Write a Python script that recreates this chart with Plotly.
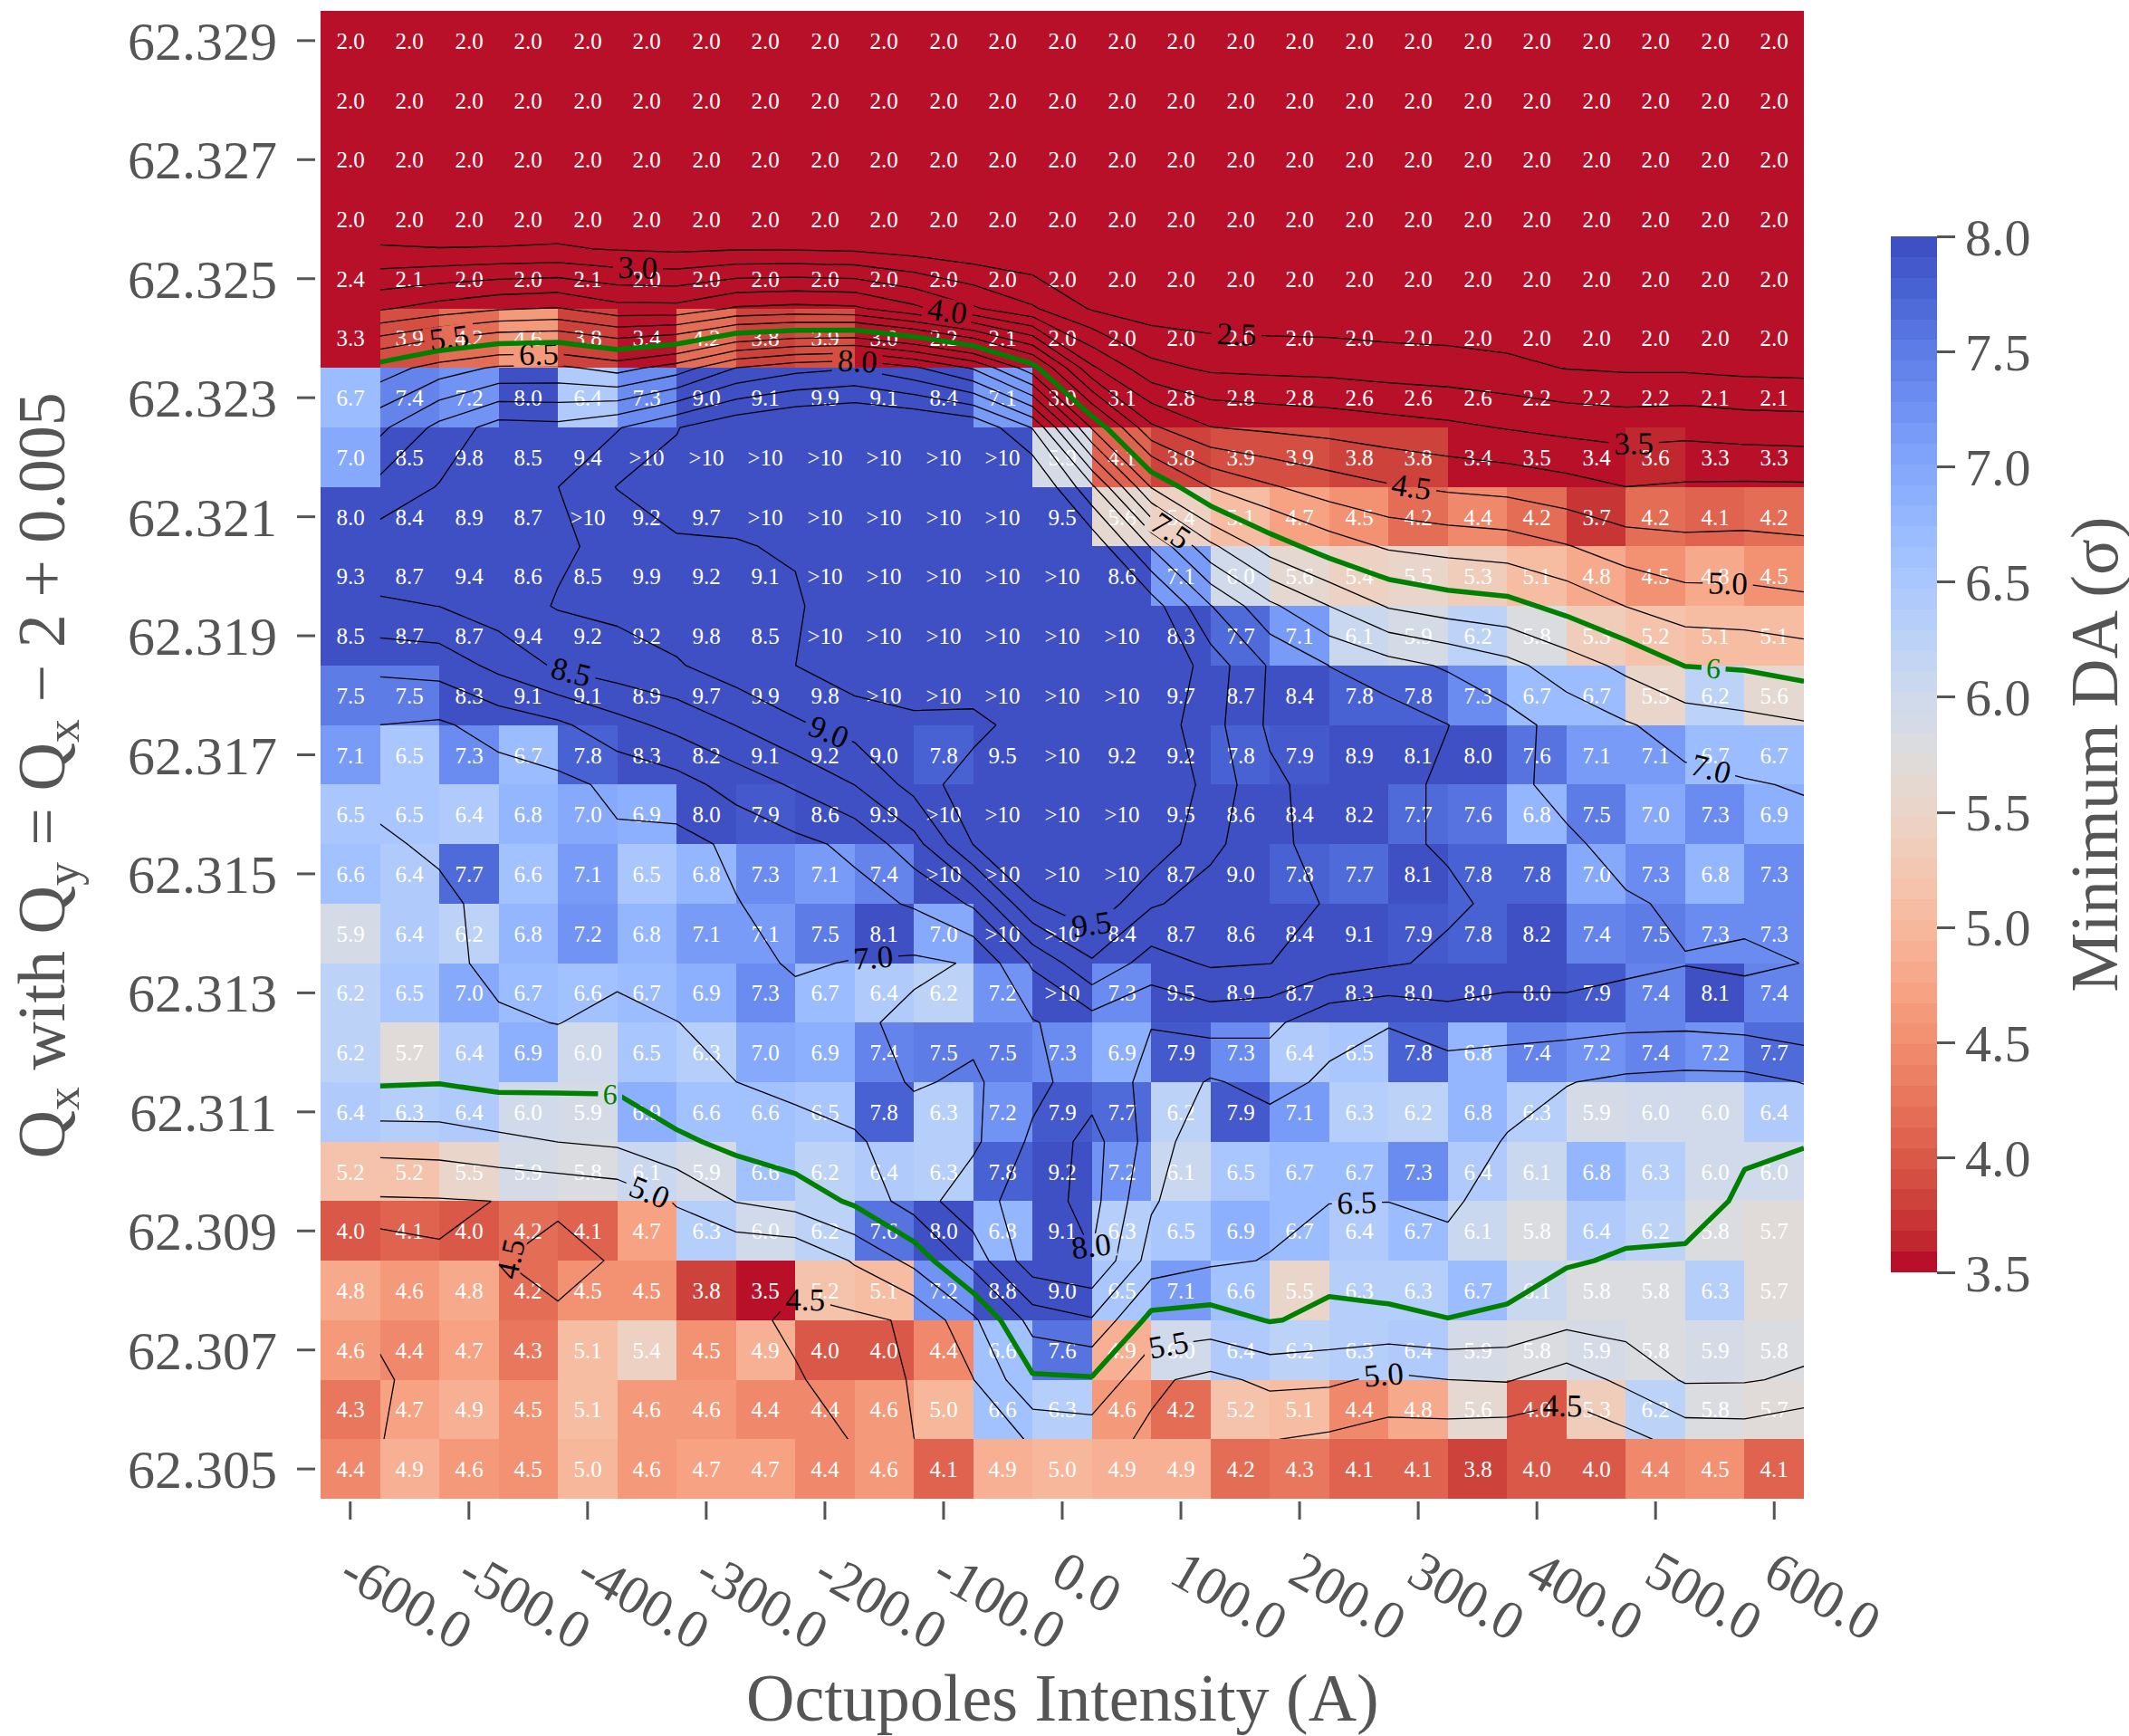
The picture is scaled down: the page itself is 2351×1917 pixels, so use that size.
import numpy as np
import plotly.graph_objects as go

# Octupole current scan (A) and horizontal tune scan (Q_y = Q_x - 2 + 0.005)
octupole_current = [-600, -550, -500, -450, -400, -350, -300, -250, -200, -150, -100, -50,
                    0, 50, 100, 150, 200, 250, 300, 350, 400, 450, 500, 550, 600]
qx_tune = [62.305, 62.306, 62.307, 62.308, 62.309, 62.310, 62.311, 62.312, 62.313,
           62.314, 62.315, 62.316, 62.317, 62.318, 62.319, 62.320, 62.321, 62.322,
           62.323, 62.324, 62.325, 62.326, 62.327, 62.328, 62.329]

# Minimum dynamic aperture (sigma), one row per tune, listed from Qx = 62.329 down to 62.305.
# ">10" marks working points whose aperture exceeds the 10 sigma tracking limit.
G = ">10"
min_da_rows = [
    [2.0, 2.0, 2.0, 2.0, 2.0, 2.0, 2.0, 2.0, 2.0, 2.0, 2.0, 2.0, 2.0, 2.0, 2.0, 2.0, 2.0, 2.0, 2.0, 2.0, 2.0, 2.0, 2.0, 2.0, 2.0],
    [2.0, 2.0, 2.0, 2.0, 2.0, 2.0, 2.0, 2.0, 2.0, 2.0, 2.0, 2.0, 2.0, 2.0, 2.0, 2.0, 2.0, 2.0, 2.0, 2.0, 2.0, 2.0, 2.0, 2.0, 2.0],
    [2.0, 2.0, 2.0, 2.0, 2.0, 2.0, 2.0, 2.0, 2.0, 2.0, 2.0, 2.0, 2.0, 2.0, 2.0, 2.0, 2.0, 2.0, 2.0, 2.0, 2.0, 2.0, 2.0, 2.0, 2.0],
    [2.0, 2.0, 2.0, 2.0, 2.0, 2.0, 2.0, 2.0, 2.0, 2.0, 2.0, 2.0, 2.0, 2.0, 2.0, 2.0, 2.0, 2.0, 2.0, 2.0, 2.0, 2.0, 2.0, 2.0, 2.0],
    [2.4, 2.1, 2.0, 2.0, 2.1, 2.0, 2.0, 2.0, 2.0, 2.0, 2.0, 2.0, 2.0, 2.0, 2.0, 2.0, 2.0, 2.0, 2.0, 2.0, 2.0, 2.0, 2.0, 2.0, 2.0],
    [3.3, 3.9, 4.2, 4.6, 3.8, 3.4, 4.2, 3.8, 3.9, 3.0, 2.2, 2.1, 2.0, 2.0, 2.0, 2.0, 2.0, 2.0, 2.0, 2.0, 2.0, 2.0, 2.0, 2.0, 2.0],
    [6.7, 7.4, 7.2, 8.0, 6.4, 7.3, 9.0, 9.1, 9.9, 9.1, 8.4, 7.1, 3.0, 3.1, 2.8, 2.8, 2.8, 2.6, 2.6, 2.6, 2.2, 2.2, 2.2, 2.1, 2.1],
    [7.0, 8.5, 9.8, 8.5, 9.4, G, G, G, G, G, G, G, 5.9, 4.1, 3.8, 3.9, 3.9, 3.8, 3.8, 3.4, 3.5, 3.4, 3.6, 3.3, 3.3],
    [8.0, 8.4, 8.9, 8.7, G, 9.2, 9.7, G, G, G, G, G, 9.5, 5.6, 5.4, 5.1, 4.7, 4.5, 4.2, 4.4, 4.2, 3.7, 4.2, 4.1, 4.2],
    [9.3, 8.7, 9.4, 8.6, 8.5, 9.9, 9.2, 9.1, G, G, G, G, G, 8.6, 7.1, 6.0, 5.6, 5.4, 5.5, 5.3, 5.1, 4.8, 4.5, 4.8, 4.5],
    [8.5, 8.7, 8.7, 9.4, 9.2, 9.2, 9.8, 8.5, G, G, G, G, G, G, 8.3, 7.7, 7.1, 6.1, 5.9, 6.2, 5.8, 5.3, 5.2, 5.1, 5.1],
    [7.5, 7.5, 8.3, 9.1, 9.1, 8.9, 9.7, 9.9, 9.8, G, G, G, G, G, 9.7, 8.7, 8.4, 7.8, 7.8, 7.3, 6.7, 6.7, 5.5, 6.2, 5.6],
    [7.1, 6.5, 7.3, 6.7, 7.8, 8.3, 8.2, 9.1, 9.2, 9.0, 7.8, 9.5, G, 9.2, 9.2, 7.8, 7.9, 8.9, 8.1, 8.0, 7.6, 7.1, 7.1, 6.7, 6.7],
    [6.5, 6.5, 6.4, 6.8, 7.0, 6.9, 8.0, 7.9, 8.6, 9.9, G, G, G, G, 9.5, 8.6, 8.4, 8.2, 7.7, 7.6, 6.8, 7.5, 7.0, 7.3, 6.9],
    [6.6, 6.4, 7.7, 6.6, 7.1, 6.5, 6.8, 7.3, 7.1, 7.4, G, G, G, G, 8.7, 9.0, 7.8, 7.7, 8.1, 7.8, 7.8, 7.0, 7.3, 6.8, 7.3],
    [5.9, 6.4, 6.2, 6.8, 7.2, 6.8, 7.1, 7.1, 7.5, 8.1, 7.0, G, G, 8.4, 8.7, 8.6, 8.4, 9.1, 7.9, 7.8, 8.2, 7.4, 7.5, 7.3, 7.3],
    [6.2, 6.5, 7.0, 6.7, 6.6, 6.7, 6.9, 7.3, 6.7, 6.4, 6.2, 7.2, G, 7.3, 9.5, 8.9, 8.7, 8.3, 8.0, 8.0, 8.0, 7.9, 7.4, 8.1, 7.4],
    [6.2, 5.7, 6.4, 6.9, 6.0, 6.5, 6.3, 7.0, 6.9, 7.4, 7.5, 7.5, 7.3, 6.9, 7.9, 7.3, 6.4, 6.5, 7.8, 6.8, 7.4, 7.2, 7.4, 7.2, 7.7],
    [6.4, 6.3, 6.4, 6.0, 5.9, 6.9, 6.6, 6.6, 6.5, 7.8, 6.3, 7.2, 7.9, 7.7, 6.2, 7.9, 7.1, 6.3, 6.2, 6.8, 6.3, 5.9, 6.0, 6.0, 6.4],
    [5.2, 5.2, 5.5, 5.9, 5.8, 6.1, 5.9, 6.6, 6.2, 6.4, 6.3, 7.8, 9.2, 7.2, 6.1, 6.5, 6.7, 6.7, 7.3, 6.4, 6.1, 6.8, 6.3, 6.0, 6.0],
    [4.0, 4.1, 4.0, 4.2, 4.1, 4.7, 6.3, 6.0, 6.2, 7.6, 8.0, 6.8, 9.1, 6.3, 6.5, 6.9, 6.7, 6.4, 6.7, 6.1, 5.8, 6.4, 6.2, 5.8, 5.7],
    [4.8, 4.6, 4.8, 4.2, 4.5, 4.5, 3.8, 3.5, 5.2, 5.1, 7.2, 8.8, 9.0, 6.5, 7.1, 6.6, 5.5, 6.3, 6.3, 6.7, 6.1, 5.8, 5.8, 6.3, 5.7],
    [4.6, 4.4, 4.7, 4.3, 5.1, 5.4, 4.5, 4.9, 4.0, 4.0, 4.4, 6.6, 7.6, 4.9, 6.0, 6.4, 6.2, 6.3, 6.4, 5.9, 5.8, 5.9, 5.8, 5.9, 5.8],
    [4.3, 4.7, 4.9, 4.5, 5.1, 4.6, 4.6, 4.4, 4.4, 4.6, 5.0, 6.6, 6.3, 4.6, 4.2, 5.2, 5.1, 4.4, 4.8, 5.6, 4.0, 5.3, 6.2, 5.8, 5.7],
    [4.4, 4.9, 4.6, 4.5, 5.0, 4.6, 4.7, 4.7, 4.4, 4.6, 4.1, 4.9, 5.0, 4.9, 4.9, 4.2, 4.3, 4.1, 4.1, 3.8, 4.0, 4.0, 4.4, 4.5, 4.1],
]
ABOVE_LIMIT = 10.5           # numeric stand-in for ">10"

colorbar_ticks = [3.5, 4.0, 4.5, 5.0, 5.5, 6.0, 6.5, 7.0, 7.5, 8.0]
black_levels_low = (2.5, 5.5)
black_levels_high = (6.5, 9.5)
green_level = 6.0
smooth_sigma = 0.7           # gaussian width (cells) used for the iso-lines

SERIF = "Liberation Serif"
GREY = "#555555"

# rows ordered bottom-up to match ascending tune values
rows_up = list(reversed(min_da_rows))
z = np.array([[ABOVE_LIMIT if v == G else v for v in r] for r in rows_up], dtype=float)
cell_text = [[v if v == G else f"{v:.1f}" for v in r] for r in rows_up]

x = np.array(octupole_current, dtype=float)
y = np.array(qx_tune, dtype=float)
dx = 50.0
dy = 0.001


def gaussian_smooth(a, sigma, truncate=4.0):
    """Separable gaussian filter with mirror padding at the edges."""
    r = int(truncate * sigma + 0.5)
    k = np.exp(-0.5 * (np.arange(-r, r + 1) / sigma) ** 2)
    k /= k.sum()
    p = np.pad(a, r, mode="symmetric")
    p = np.apply_along_axis(lambda v: np.convolve(v, k, mode="valid"), 1, p)
    p = np.apply_along_axis(lambda v: np.convolve(v, k, mode="valid"), 0, p)
    return p


z_smooth = gaussian_smooth(z, smooth_sigma)

# diverging cool-warm map, reversed so large apertures are blue
_coolwarm = [
    (59, 76, 192), (68, 90, 204), (77, 104, 215), (87, 117, 225), (98, 130, 234),
    (108, 142, 241), (119, 154, 247), (130, 165, 251), (141, 176, 254), (152, 185, 255),
    (163, 194, 255), (174, 201, 253), (184, 208, 249), (194, 213, 244), (204, 217, 238),
    (213, 219, 230), (221, 221, 221), (229, 216, 209), (236, 211, 197), (241, 204, 185),
    (245, 196, 173), (247, 187, 160), (247, 177, 148), (247, 166, 135), (244, 154, 123),
    (241, 141, 111), (236, 127, 99), (229, 112, 88), (222, 96, 77), (213, 80, 66),
    (203, 62, 56), (192, 40, 47), (180, 4, 38),
]


def coolwarm_r(t):
    t = 1.0 - min(max(t, 0.0), 1.0)
    pos = t * (len(_coolwarm) - 1)
    i = min(int(np.floor(pos)), len(_coolwarm) - 2)
    f = pos - i
    a, b = _coolwarm[i], _coolwarm[i + 1]
    c = [round(a[k] + (b[k] - a[k]) * f) for k in range(3)]
    return f"rgb({c[0]},{c[1]},{c[2]})"


n_bands = 50
colorscale = []
for k in range(n_bands):
    col = coolwarm_r((k + 0.5) / n_bands)
    colorscale.append([k / n_bands, col])
    colorscale.append([(k + 1) / n_bands, col])

fig = go.Figure()

fig.add_trace(go.Heatmap(
    x=x, y=y, z=z,
    zmin=3.5, zmax=8.0,
    colorscale=colorscale,
    text=cell_text,
    texttemplate="%{text}",
    textfont=dict(family=SERIF, size=25, color="white"),
    hoverinfo="skip",
    colorbar=dict(
        x=1.0586, xanchor="left", xref="paper", xpad=0,
        y=0.5, yanchor="middle", ypad=0,
        len=0.696, lenmode="fraction",
        thickness=51, thicknessmode="pixels",
        outlinewidth=0,
        ticks="outside", ticklen=20, tickwidth=3, tickcolor=GREY,
        tickvals=colorbar_ticks,
        ticktext=[f"{v:.1f}" for v in colorbar_ticks],
        tickfont=dict(family=SERIF, size=58, color=GREY),
    ),
))

# iso-lines live on the cell corners (half a cell right and up)
xc = x + dx / 2
yc = y + dy / 2

for lo, hi in (black_levels_low, black_levels_high):
    fig.add_trace(go.Contour(
        x=xc, y=yc, z=z_smooth,
        autocontour=False,
        contours=dict(start=lo, end=hi, size=0.5, coloring="none",
                      showlabels=True, labelformat=".1f",
                      labelfont=dict(family=SERIF, size=35, color="black")),
        line=dict(color="black", width=1.3, smoothing=0),
        showscale=False, hoverinfo="skip",
    ))

fig.add_trace(go.Contour(
    x=xc, y=yc, z=z_smooth,
    autocontour=False,
    contours=dict(start=green_level, end=green_level, size=1, coloring="none",
                  showlabels=True, labelformat=".0f",
                  labelfont=dict(family=SERIF, size=32, color="green")),
    line=dict(color="green", width=5.5, smoothing=0),
    showscale=False, hoverinfo="skip",
))

x_ticks = octupole_current[::2]
y_ticks = qx_tune[::2]
PLOT_W, PLOT_H = 2351 - 354 - 359, 1917 - 12 - 262

# tick marks sit slightly detached from the heatmap edge
tick_shapes = []
for v in y_ticks:
    tick_shapes.append(dict(type="line", xref="paper", yref="y",
                            x0=-6 / PLOT_W, x1=-26 / PLOT_W, y0=v, y1=v,
                            line=dict(color=GREY, width=3)))
for v in x_ticks:
    tick_shapes.append(dict(type="line", xref="x", yref="paper",
                            x0=v, x1=v, y0=-3 / PLOT_H, y1=-23 / PLOT_H,
                            line=dict(color=GREY, width=3)))

fig.update_layout(
    width=2351, height=1917,
    margin=dict(l=354, r=359, t=12, b=262),
    paper_bgcolor="white", plot_bgcolor="white",
    font=dict(family=SERIF, color=GREY),
    showlegend=False,
    shapes=tick_shapes,
    xaxis=dict(
        range=[x[0] - dx / 2, x[-1] + dx / 2],
        tickvals=x_ticks, ticktext=[f"{v:.1f}" for v in x_ticks],
        tickangle=30, ticks="outside", ticklen=22, tickwidth=3,
        tickcolor="rgba(0,0,0,0)",
        tickfont=dict(family=SERIF, size=60, color=GREY),
        showgrid=False, zeroline=False, showline=False, automargin=False,
    ),
    yaxis=dict(
        range=[y[0] - dy / 2, y[-1] + dy / 2],
        tickvals=y_ticks, ticktext=[f"{v:.3f}" for v in y_ticks],
        ticks="outside", ticklen=35, tickwidth=3, tickcolor="rgba(0,0,0,0)",
        tickfont=dict(family=SERIF, size=60, color=GREY),
        showgrid=False, zeroline=False, showline=False, automargin=False,
    ),
    annotations=[
        dict(text="Octupoles Intensity (A)", xref="paper", yref="paper",
             x=0.5, y=-0.134, xanchor="center", yanchor="middle", showarrow=False,
             font=dict(family=SERIF, size=74, color=GREY)),
        dict(text="Q<sub>x</sub> with Q<sub>y</sub> = Q<sub>x</sub> \u2212 2 + 0.005",
             xref="paper", yref="paper", x=-0.1844, y=0.486, textangle=-90,
             xanchor="center", yanchor="middle", showarrow=False,
             font=dict(family=SERIF, size=74, color=GREY)),
        dict(text="Minimum DA (\u03c3)", xref="paper", yref="paper",
             x=1.1954, y=0.5, textangle=-90,
             xanchor="center", yanchor="middle", showarrow=False,
             font=dict(family=SERIF, size=74, color=GREY)),
    ],
)

fig.write_html("out.html")
